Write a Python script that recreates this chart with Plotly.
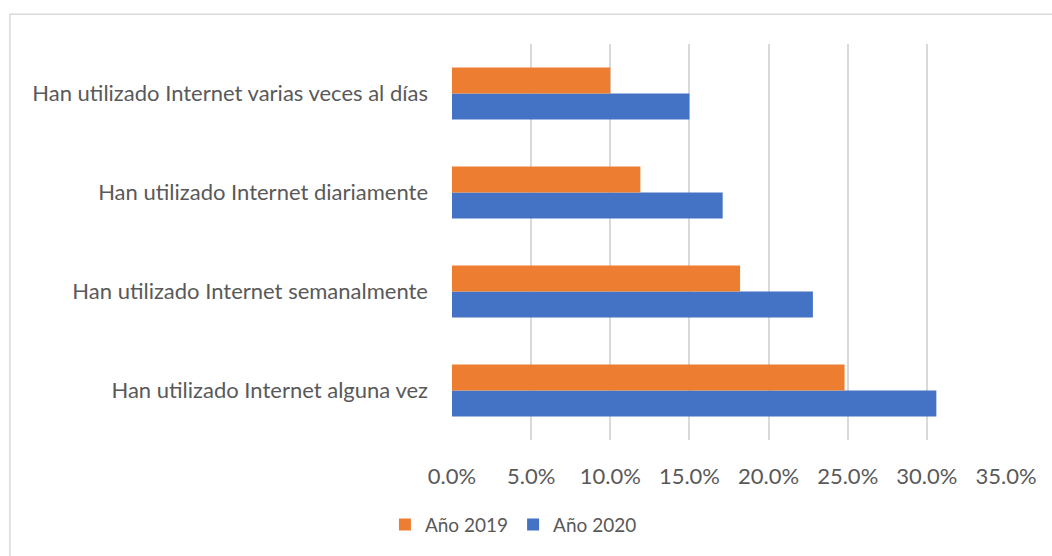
import plotly.graph_objects as go

categories = [
    "Han utilizado Internet alguna vez",
    "Han utilizado Internet semanalmente",
    "Han utilizado Internet diariamente",
    "Han utilizado Internet varias veces al días",
]
values_2019 = [24.8, 18.2, 11.9, 10.0]
values_2020 = [30.6, 22.8, 17.1, 15.0]
tick_vals = [0, 5, 10, 15, 20, 25, 30, 35]
tick_text = ["0.0%", "5.0%", "10.0%", "15.0%", "20.0%", "25.0%", "30.0%", "35.0%"]

FONT = "Lato"
TXT = "#595959"
FS = 22

fig = go.Figure()
fig.add_trace(go.Bar(
    y=categories, x=values_2020, name="Año 2020", orientation="h",
    marker=dict(color="#4472C4", line=dict(width=0)), legendrank=2,
))
fig.add_trace(go.Bar(
    y=categories, x=values_2019, name="Año 2019", orientation="h",
    marker=dict(color="#ED7D31", line=dict(width=0)), legendrank=1,
))

W, H = 1052, 556
L, R, T, B = 452, 45.5, 44, 114
pw = W - L - R
ph = H - T - B

def px_x(p):
    return (p - L) / pw

def px_y(p):
    return (H - B - p) / ph

fig.update_layout(
    width=W, height=H,
    margin=dict(l=L, r=R, t=T, b=B, pad=0),
    paper_bgcolor="white", plot_bgcolor="white",
    barmode="group", bargap=0.477, bargroupgap=0,
    font=dict(family=FONT, size=FS, color=TXT),
    showlegend=True,
    legend=dict(
        orientation="h", x=px_x(513.5), xanchor="center",
        y=px_y(527), yanchor="middle",
        font=dict(family=FONT, size=19, color=TXT),
        itemwidth=30, traceorder="normal",
    ),
    xaxis=dict(
        range=[0, 35], tickvals=tick_vals, ticktext=tick_text,
        showgrid=True, gridcolor="#d9d9d9", gridwidth=1.5,
        zeroline=False, showline=False, ticks="",
        ticklabelstandoff=21,
        tickfont=dict(family=FONT, size=FS, color=TXT),
        fixedrange=True,
    ),
    yaxis=dict(
        categoryorder="array", categoryarray=categories,
        showgrid=False, zeroline=False, showline=False, ticks="",
        ticklabelstandoff=23,
        tickfont=dict(family=FONT, size=FS, color=TXT),
        fixedrange=True,
    ),
    shapes=[dict(
        type="rect", xref="paper", yref="paper",
        x0=px_x(9.5), x1=px_x(1070), y0=px_y(600), y1=px_y(14),
        line=dict(color="#d9d9d9", width=1.5), fillcolor="rgba(0,0,0,0)",
        layer="below",
    )],
)

fig.write_html(
    "out.html",
    config={"displayModeBar": False},
    post_script="document.body.style.margin='0';document.body.style.padding='0';document.documentElement.style.overflow='hidden';",
)
